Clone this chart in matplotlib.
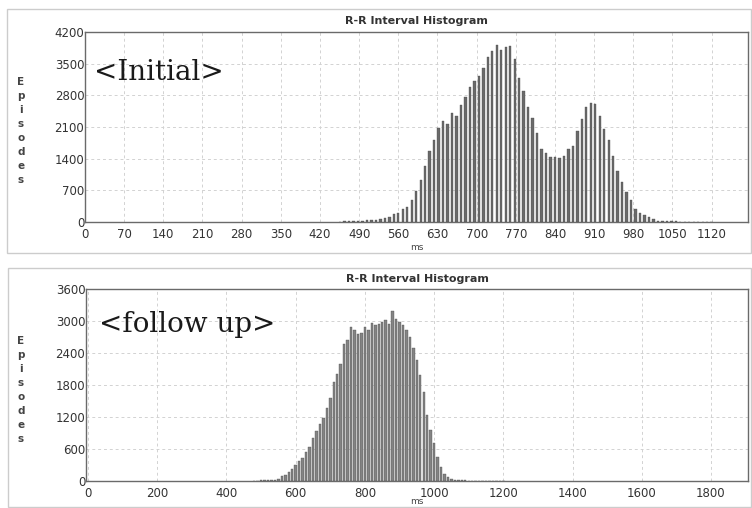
import matplotlib
matplotlib.use("Agg")
import matplotlib.pyplot as plt
from matplotlib.patches import Rectangle

W, H = 752, 508

# ---------------- data ----------------
# Initial recording: 8 ms bins
initial_bin_start = 456
initial_bin_width = 8
initial_counts = [
    10, 14, 18, 22, 26, 30, 34, 40, 52, 59, 88, 118, 176,          # 456-552
    192, 280, 339, 486, 685, 921, 1245, 1569, 1813, 2085,          # 560-632
    2233, 2170, 2420, 2343, 2590, 2765, 2977, 3110, 3227, 3397,    # 640-712
    3640, 3787, 3905, 3802, 3876, 3880, 3603, 3190, 2896, 2549,    # 720-792
    2306, 1960, 1614, 1533, 1429, 1429, 1407, 1470, 1620, 1680,    # 800-872
    2012, 2284, 2535, 2623, 2600, 2351, 2056, 1813, 1459, 1135,    # 880-952
    884, 670, 486, 287, 192, 155, 118, 59, 29, 29,                 # 960-1032
    22, 16, 13, 11, 9, 8, 7, 6, 5, 5, 4,                           # 1040-1120
]
initial_xticks = [0, 70, 140, 210, 280, 350, 420, 490, 560, 630, 700,
                  770, 840, 910, 980, 1050, 1120]
initial_yticks = [0, 700, 1400, 2100, 2800, 3500, 4200]

# Follow-up recording: 10 ms bins
follow_bin_start = 480
follow_bin_width = 10
follow_counts = [
    6, 8, 10, 12, 14, 16,                                          # 480-530
    20, 33, 95, 114, 176, 220, 300, 380, 430, 540,                 # 540-630
    644, 800, 940, 1060, 1174, 1361, 1548, 1860, 2000, 2203,       # 640-730
    2577, 2650, 2880, 2840, 2760, 2780, 2886, 2824, 2967, 2917,    # 740-830
    2949, 2980, 3011, 2949, 3186, 3042, 2980, 2917, 2836, 2699,    # 840-930
    2500, 2263, 1982, 1671, 1234, 954, 704, 455, 268, 133,         # 940-1030
    83, 40, 20, 14, 12, 10, 9, 8, 8, 7, 7, 6, 6, 5, 5, 5, 4,      # 1040-1200
]
follow_xticks = [0, 200, 400, 600, 800, 1000, 1200, 1400, 1600, 1800]
follow_yticks = [0, 600, 1200, 1800, 2400, 3000, 3600]

title_text = "R-R Interval Histogram"
xlabel_text = "ms"
ylabel_text = "Episodes"
panel_labels = ["<Initial>", "<follow up>"]

# ---------------- figure ----------------
fig = plt.figure(figsize=(W / 100, H / 100), dpi=100)
fig.patch.set_facecolor("white")


def fx(x):
    return x / W


def fy(y):
    return 1 - y / H


def make_axes(left, right, top, bottom):
    return fig.add_axes([fx(left), fy(bottom), (right - left) / W, (bottom - top) / H])


panels = [
    dict(frame=(7, 9, 751, 253), ax=(85, 748, 32, 222), xlim=(0, 1185), ylim=(0, 4200),
         start=initial_bin_start, width=initial_bin_width, counts=initial_counts,
         xticks=initial_xticks, yticks=initial_yticks, barw=4.2, color="#6a6a6a",
         title_y=21, ms_y=248, ylab_top=82, label_xy=(94, 80)),
    dict(frame=(8, 268, 751, 507), ax=(86, 748, 289, 481), xlim=(-6, 1907), ylim=(0, 3600),
         start=follow_bin_start, width=follow_bin_width, counts=follow_counts,
         xticks=follow_xticks, yticks=follow_yticks, barw=7.0, color="#848484",
         title_y=279, ms_y=502, ylab_top=341, label_xy=(99, 332)),
]

for i, p in enumerate(panels):
    x0, y0, x1, y1 = p["frame"]
    fig.add_artist(Rectangle((fx(x0), fy(y1)), (x1 - x0) / W, (y1 - y0) / H,
                             transform=fig.transFigure, fill=False,
                             edgecolor="#cccccc", linewidth=1.0))
    l, r, t, b = p["ax"]
    ax = make_axes(l, r, t, b)
    centers = [p["start"] + k * p["width"] for k in range(len(p["counts"]))]
    ax.bar(centers, p["counts"], width=p["barw"], color=p["color"],
           edgecolor="#4a4a4a", linewidth=0.25, zorder=3)
    ax.set_xlim(*p["xlim"])
    ax.set_ylim(*p["ylim"])
    ax.set_xticks(p["xticks"])
    ax.set_yticks(p["yticks"])
    ax.set_xticklabels([str(v) for v in p["xticks"]])
    ax.set_yticklabels([str(v) for v in p["yticks"]])
    ax.tick_params(axis="both", length=0, labelsize=8.5, labelcolor="#333333")
    ax.tick_params(axis="x", pad=4.5)
    ax.tick_params(axis="y", pad=0.5)
    for lab in ax.get_xticklabels() + ax.get_yticklabels():
        lab.set_family("DejaVu Sans")
    ax.grid(True, color="#d2d2d2", linestyle=(0, (3, 3)), linewidth=0.7)
    ax.set_axisbelow(True)
    for s in ax.spines.values():
        s.set_color("#6a6a6a")
        s.set_linewidth(1.0)

    cx = (l + r) / 2
    fig.text(fx(cx), fy(p["title_y"]), title_text, ha="center", va="center",
             fontsize=8, fontweight="bold", color="#333333", family="DejaVu Sans")
    fig.text(fx(cx), fy(p["ms_y"]), xlabel_text, ha="center", va="center",
             fontsize=6.5, color="#444444", family="DejaVu Sans")
    for k, ch in enumerate(ylabel_text):
        fig.text(fx(21), fy(p["ylab_top"] + k * 14), ch, ha="center", va="center",
                 fontsize=7.5, fontweight="bold", color="#444444", family="DejaVu Sans")
    lx, ly = p["label_xy"]
    fig.text(fx(lx), fy(ly), panel_labels[i], ha="left", va="baseline",
             fontsize=20, color="#1a1a1a", family="DejaVu Serif")

fig.savefig("out.png", dpi=100, facecolor="white")
